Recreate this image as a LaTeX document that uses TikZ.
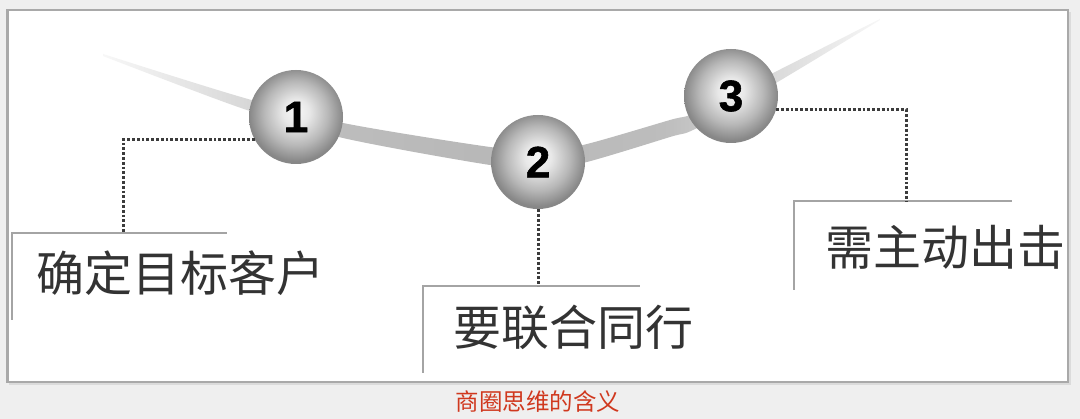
\documentclass[tikz,border=0pt]{standalone}
\usepackage{fontspec}
\newfontfamily\cjk{Noto Sans CJK SC}
\newfontfamily\numfont[FakeBold=1.3]{Liberation Sans Bold}
\definecolor{bgc}{HTML}{EFEFEF}
\definecolor{framec}{HTML}{A9A9A9}
\definecolor{txtc}{HTML}{333333}
\definecolor{capc}{HTML}{D0381E}
\definecolor{dotc}{HTML}{3C3C3C}
\definecolor{brc}{HTML}{A4A4A4}
\pgfdeclareradialshading{sphere}{\pgfpoint{0bp}{3bp}}{color(0bp)=(black!3); color(7bp)=(black!9); color(17bp)=(black!28); color(25bp)=(black!47); color(50bp)=(black!47)}
\pgfdeclarehorizontalshading{swoosh}{100bp}{color(0bp)=(black!3); color(25bp)=(black!3); color(34bp)=(black!15); color(40bp)=(black!26); color(50bp)=(black!28); color(61bp)=(black!26); color(66bp)=(black!18); color(71bp)=(black!10); color(75bp)=(black!3); color(100bp)=(black!3)}
\tikzset{
  ballnode/.style={circle, minimum size=94pt, inner sep=0pt, shade, shading=sphere,
    font=\numfont\fontsize{44}{44}\selectfont, text=black},
  lbl/.style={anchor=west, inner sep=0pt, text=txtc, font=\cjk\fontsize{48}{48}\selectfont},
  dotline/.style={draw=dotc, line width=3pt, dash pattern=on 2.8pt off 2pt},
  bracket/.style={draw=brc, line width=2.6pt},
}
\begin{document}
\begin{tikzpicture}[x=1pt, y=-1pt]
\useasboundingbox (0,0) rectangle (1080,419);
\fill[bgc] (0,0) rectangle (1080,419);
% frame
\fill[black!14] (9,12) rectangle (1071,385);
\draw[framec, line width=2.6pt, fill=white] (7.5,10) rectangle (1068,382);
% swoosh
\shade[shading=swoosh]
  plot[smooth] coordinates {(103,54) (241,97) (343,123) (490,147) (540,150) (583,145) (670,120) (697,112) (781,69) (880,19)}
  -- plot[smooth] coordinates {(880,20) (781,80) (697,128) (670,137) (583,163) (540,168) (490,165) (343,138) (241,108) (103,56)} -- cycle;
% balls
\node[ballnode] (b1) at (296,117) {1};
\node[ballnode] (b2) at (538,162) {2};
\node[ballnode] (b3) at (731,96) {3};
% brackets
\coordinate (k1) at (123,233);
\coordinate (k2) at (538,286);
\coordinate (k3) at (906,201);
\draw[bracket] (12,320) -- (12,233) -- (227,233);
\draw[bracket] (423,373) -- (423,286) -- (640,286);
\draw[bracket] (794,290) -- (794,201) -- (1012,201);
% dotted connectors
\draw[dotline] (b1.209) -| (k1);
\draw[dotline] (b2.south) -- (k2);
\draw[dotline] (b3.343) -| (k3);
% labels
\node[lbl] (t1) at (36,273) {确定目标客户};
\node[lbl] (t2) at (453,327) {要联合同行};
\node[lbl] (t3) at (825,247) {需主动出击};
% caption
\node[inner sep=0pt, text=capc, font=\cjk\fontsize{23.5}{23.5}\selectfont] (cap) at (538,402) {商圈思维的含义};
\end{tikzpicture}
\end{document}
